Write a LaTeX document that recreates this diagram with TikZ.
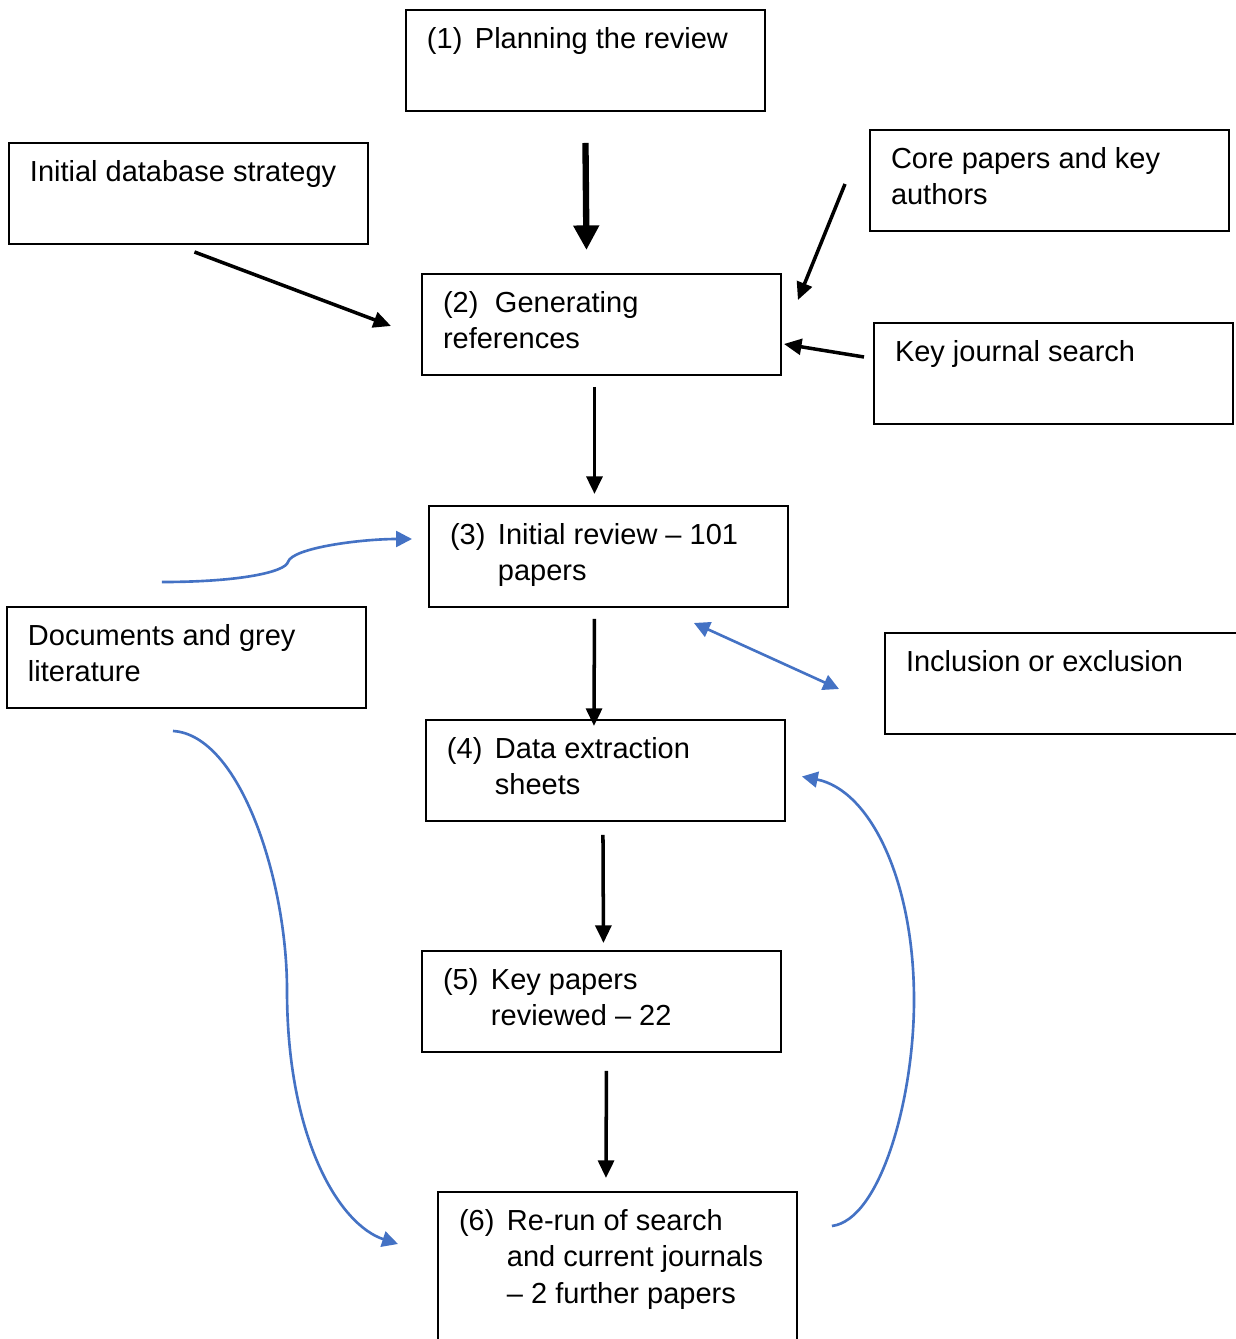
\documentclass[tikz,border=0pt]{standalone}
\usepackage{fontspec}
\setmainfont{Liberation Sans}
\usetikzlibrary{arrows.meta,calc}
\definecolor{loopblue}{HTML}{4472C4}
\newcommand{\boxtext}[2][1.34cm]{\parbox[t][#1][t]{6.34cm}{\fontsize{16.5}{21}\selectfont #2}}
\newcommand{\stepitem}[3][0.96cm]{\hangindent=#1\hangafter=1\makebox[#1][l]{(#2)}#3}
\begin{document}
\begin{tikzpicture}
  [x=0.02cm,y=-0.02cm,
   box/.style={draw,line width=1.1pt,anchor=north west,outer sep=0pt,inner xsep=0.42cm,inner ysep=0.34cm},
   flow/.style={line width=2pt,-{Triangle[length=10pt,width=9pt]}},
   bigflow/.style={line width=3.6pt,-{Triangle[length=14pt,width=14pt]}},
   loop/.style={loopblue,line width=1.5pt,-{Triangle[length=9pt,width=9pt]}}]
  \path[use as bounding box,clip] (0,0) rectangle (1236,1339);
  \node[box] (b1)   at (406,10)   {\boxtext{\stepitem{1}{Planning the review}}};
  \node[box] (db)   at (9,143)    {\boxtext{Initial database strategy}};
  \node[box] (core) at (870,130)  {\boxtext{Core papers and key\\authors}};
  \node[box] (b2)   at (422,274)  {\boxtext{\makebox[1.04cm][l]{(2)}Generating\\references}};
  \node[box] (kj)   at (874,323)  {\boxtext{Key journal search}};
  \node[box] (b3)   at (429,506)  {\boxtext{\stepitem{3}{Initial review -- 101\\papers}}};
  \node[box] (docs) at (7,607)    {\boxtext{Documents and grey\\literature}};
  \node[box] (incl) at (885,633)  {\boxtext{Inclusion or exclusion}};
  \node[box] (b4)   at (426,720)  {\boxtext{\stepitem{4}{Data extraction\\sheets}}};
  \node[box] (b5)   at (422,951)  {\boxtext{\stepitem{5}{Key papers\\reviewed -- 22}}};
  \node[box] (b6)   at (438,1192) {\boxtext[2.6cm]{\stepitem{6}{Re-run of search\\and current journals\\-- 2 further papers}}};

  \draw[bigflow] ($(b1.south)+(0,32)$) -- ($(b2.north)+(-15,-24)$);
  \draw[flow] ($(db.south)+(6,8)$) -- ($(b2.west)+(-31,1.5)$);
  \draw[flow] ($(core.west)+(-25,3.5)$) -- ($(b2.north east)+(17,26)$);
  \draw[flow] ($(kj.west)+(-10,-16.5)$) -- ($(b2.east)+(3,19.5)$);
  \draw[flow] ($(b2.south)+(-7,12)$) -- ($(b3.north)+(-14,-12)$);
  \draw[flow] ($(b3.south)+(-14,12)$) -- ($(b4.north)+(-11.5,6)$);
  \draw[flow] ($(b4.south)+(-2.5,14)$) -- ($(b5.north)+(2,-8)$);
  \draw[flow] ($(b5.south)+(5,19)$) -- ($(b6.north)+(-11.5,-14)$);

  \draw[loop] ($(docs.north)+(-24.5,-25)$) .. controls (240,582) and (285,572) .. (288,562)
    .. controls (292,548) and (360,539) .. ($(b3.west)+(-17,-17.5)$);
  \draw[loop,{Triangle[length=9pt,width=9pt]}-{Triangle[length=9pt,width=9pt]}]
    ($(b3.south east)+(-94,16)$) -- ($(incl.west)+(-46,5.5)$);
  \draw[loop] ($(docs.south)+(-13.5,23)$) .. controls (240,735) and (287,880) .. (287,990)
    .. controls (287,1140) and (340,1225) .. ($(b6.west)+(-40,-30)$);
  \draw[loop] ($(b6.east)+(35,-48)$) .. controls (880,1220) and (914,1100) .. (914,1000)
    .. controls (914,880) and (870,790) .. ($(b4.east)+(17,6)$);
\end{tikzpicture}
\end{document}
